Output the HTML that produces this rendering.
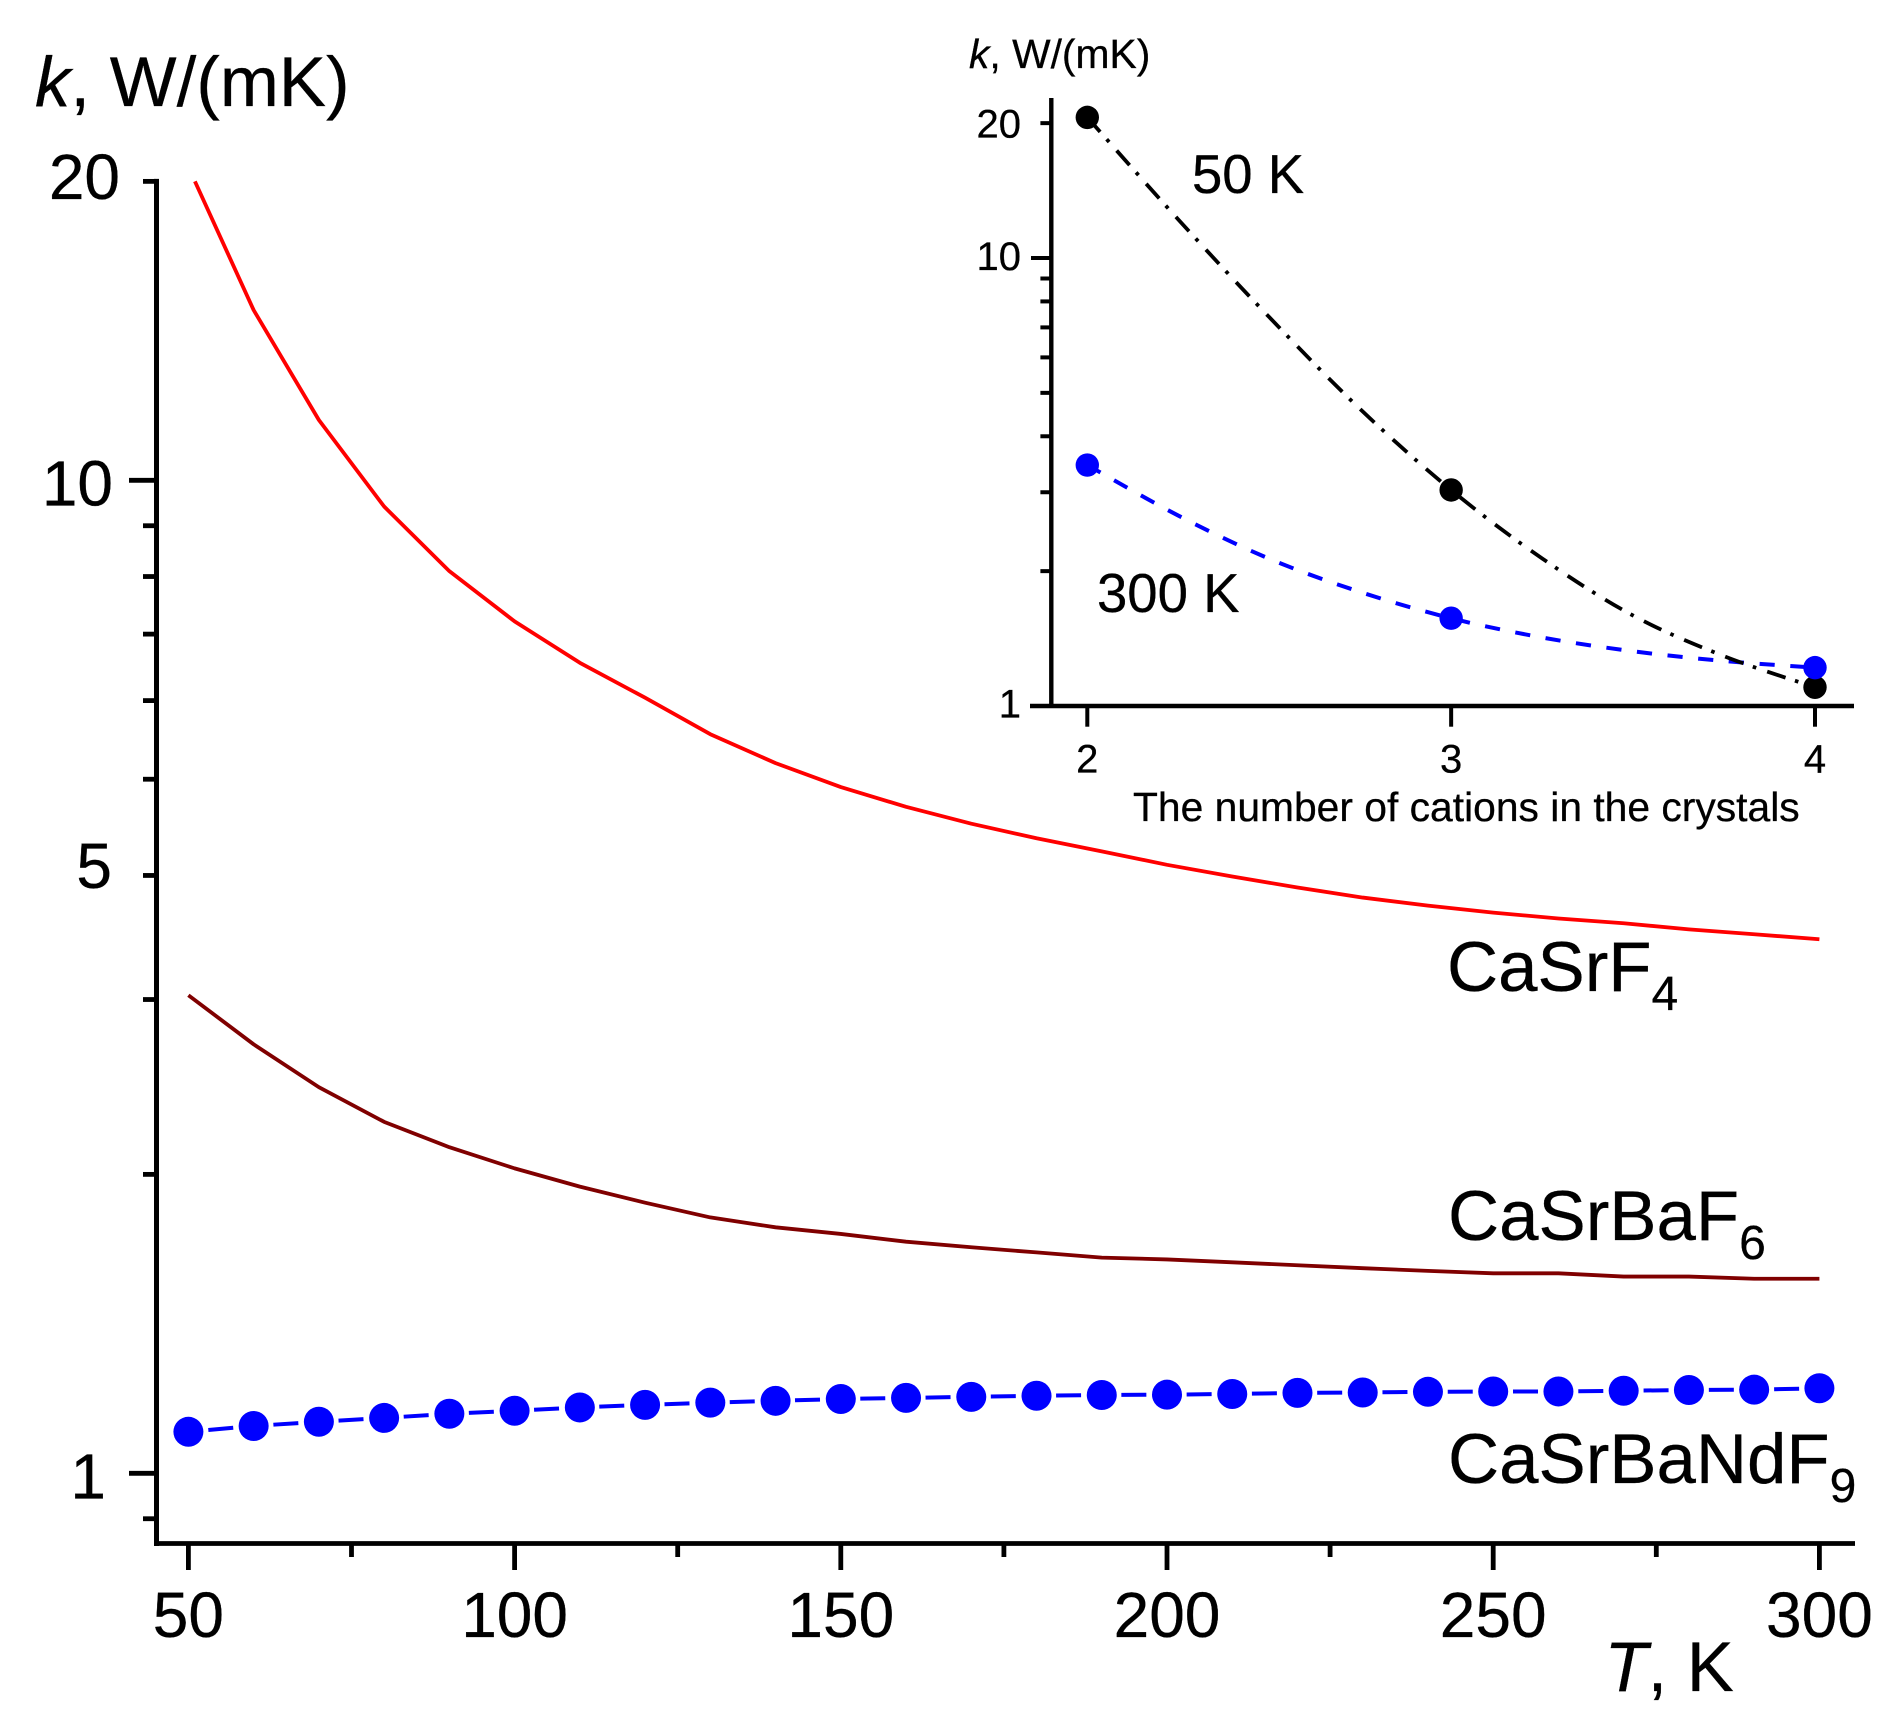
<!DOCTYPE html>
<html lang="en">
<head>
<meta charset="utf-8">
<title>Thermal conductivity of fluoride crystals</title>
<style>
html,body{margin:0;padding:0;background:#fff;}
svg{display:block;}
text{font-family:"Liberation Sans",Arial,sans-serif;fill:#000;stroke:#000;stroke-width:0.3px;}
</style>
</head>
<body>
<svg id="figure" xmlns="http://www.w3.org/2000/svg" width="1894" height="1732" viewBox="0 0 1894 1732">
  <rect x="0" y="0" width="1894" height="1732" fill="#fff"/>
  <g id="main-chart"></g>
  <g id="inset-chart"></g>

  <text x="35" y="106" font-size="70.8"><tspan font-style="italic">k</tspan>, W/(mK)</text>
  <text x="1604.5" y="1691" font-size="70.5"><tspan font-style="italic">T</tspan>, K</text>

  <text x="1447" y="991" font-size="70.8">CaSrF<tspan font-size="48" dy="19">4</tspan></text>
  <text x="1448" y="1240" font-size="70.8">CaSrBaF<tspan font-size="48" dy="19">6</tspan></text>
  <text x="1448" y="1483" font-size="70.8">CaSrBaNdF<tspan font-size="48" dy="19">9</tspan></text>

  <text x="969" y="68" font-size="40.8"><tspan font-style="italic">k</tspan>, W/(mK)</text>
  <text x="1133" y="821" font-size="40.8">The number of cations in the crystals</text>
  <text x="1192" y="193" font-size="54.5">50 K</text>
  <text x="1097" y="612" font-size="54.5">300 K</text>
</svg>

<script>
// ---------- Main chart data ----------
const temperatures = [50,60,70,80,90,100,110,120,130,140,150,160,170,180,190,200,210,220,230,240,250,260,270,280,290,300];
const casrf4Temperatures = [51,60,70,80,90,100,110,120,130,140,150,160,170,180,190,200,210,220,230,240,250,260,270,280,290,300];
const casrf4Values = [20.0,14.84,11.50,9.41,8.10,7.21,6.55,6.04,5.55,5.19,4.91,4.69,4.51,4.36,4.23,4.10,3.99,3.89,3.80,3.73,3.67,3.62,3.58,3.53,3.49,3.45];
const casrbaf6Values = [3.03,2.704,2.448,2.259,2.130,2.028,1.944,1.873,1.810,1.769,1.742,1.711,1.689,1.669,1.649,1.642,1.631,1.620,1.609,1.599,1.590,1.590,1.578,1.578,1.570,1.570];
const casrbandf9Values = [1.101,1.116,1.127,1.137,1.148,1.156,1.165,1.172,1.178,1.183,1.188,1.191,1.194,1.197,1.199,1.200,1.202,1.205,1.206,1.208,1.209,1.209,1.211,1.213,1.214,1.218];
const xMajorTicks = [50,100,150,200,250,300];
const xMinorTicks = [75,125,175,225,275];
const yMajorTicks = [10,1];
const yMinorTicks = [20,9,8,7,6,5,4,3,2,0.9];
const yTickLabelValues = [20,10,4,1];
const yTickLabelTexts = ['20','10','5','1'];

// ---------- Inset chart data ----------
const cationCounts = [2,3,4];
const k50Values = [20.6,3.035,1.101];
const k300Values = [3.45,1.570,1.218];
const fitCationCounts = [2,2.25,2.5,2.75,3,3.25,3.5,3.75,4];
const k50FitValues = [20.6,12.19,7.38,4.60,3.035,2.135,1.592,1.292,1.101];
const k300FitValues = [3.45,2.661,2.132,1.797,1.570,1.422,1.325,1.260,1.218];
const insetYMajorTicks = [10,1];
const insetYMinorTicks = [20,9,8,7,6,5,4,3,2];
const insetYLabelValues = [20,10,1];
const insetYLabelTexts = ['20','10','1'];

// ---------- Axis functions ----------
const xMain = t => 188.4 + (t - 50) * 6.524;
const yMain = v => 1473.3 - 993 * Math.log10(v);
const xInset = n => 1087.3 + (n - 2) * 363.85;
const yInset = v => 706 - 448 * Math.log10(v);

const NS = 'http://www.w3.org/2000/svg';
const mainGroup = document.getElementById('main-chart');
const insetGroup = document.getElementById('inset-chart');

function make(tag, parent, props) {
  const node = document.createElementNS(NS, tag);
  for (const key in props) node.setAttribute(key, props[key]);
  parent.appendChild(node);
  return node;
}
const polyPoints = (xs, ys, fx, fy) => xs.map((x, i) => fx(x).toFixed(2) + ',' + fy(ys[i]).toFixed(2)).join(' ');
function smoothPath(pts) {
  let d = 'M' + pts[0][0].toFixed(2) + ' ' + pts[0][1].toFixed(2);
  for (let i = 0; i < pts.length - 1; i++) {
    const p0 = pts[Math.max(i - 1, 0)], p1 = pts[i], p2 = pts[i + 1], p3 = pts[Math.min(i + 2, pts.length - 1)];
    const c1x = p1[0] + (p2[0] - p0[0]) / 6, c1y = p1[1] + (p2[1] - p0[1]) / 6;
    const c2x = p2[0] - (p3[0] - p1[0]) / 6, c2y = p2[1] - (p3[1] - p1[1]) / 6;
    d += 'C' + c1x.toFixed(2) + ' ' + c1y.toFixed(2) + ' ' + c2x.toFixed(2) + ' ' + c2y.toFixed(2) + ' ' + p2[0].toFixed(2) + ' ' + p2[1].toFixed(2);
  }
  return d;
}

// ---------- Main chart: axes ----------
let el;
el = make('line', mainGroup, {x1:156.5, x2:156.5, y1:yMain(20)-2.5, y2:1546, stroke:'#000', 'stroke-width':5});


el = make('line', mainGroup, {x1:154, x2:1855, y1:1543.5, y2:1543.5, stroke:'#000', 'stroke-width':4.8});



yMajorTicks.forEach(v => {
  const tick = make('line', mainGroup, {x1:129, x2:156, y1:yMain(v), y2:yMain(v), stroke:'#000', 'stroke-width':4.8});
  
  
});
yMinorTicks.forEach(v => {
  const tick = make('line', mainGroup, {x1:143, x2:156, y1:yMain(v), y2:yMain(v), stroke:'#000', 'stroke-width':4.8});
  
  
});
xMajorTicks.forEach(t => {
  const tick = make('line', mainGroup, {x1:xMain(t), x2:xMain(t), y1:1543.5, y2:1570, stroke:'#000', 'stroke-width':4.8});
  
  
  const label = make('text', mainGroup, {x:xMain(t), y:1637, 'font-size':64, 'text-anchor':'middle'});
  label.textContent = String(t);
  
  
});
xMinorTicks.forEach(t => {
  const tick = make('line', mainGroup, {x1:xMain(t), x2:xMain(t), y1:1543.5, y2:1557, stroke:'#000', 'stroke-width':4.8});
  
  
});
// Hand placement of the printed y labels in the reference figure
const yLabelRight = [120,113,112,106];
const yLabelDrop = [17.5,25,12.6,25];
yTickLabelValues.forEach((v, i) => {
  const label = make('text', mainGroup, {x:yLabelRight[i], y:yMain(v)+yLabelDrop[i], 'font-size':64, 'text-anchor':'end'});
  label.textContent = yTickLabelTexts[i];
  
  
});

// ---------- Main chart: series ----------
el = make('polyline', mainGroup, {points:polyPoints(casrf4Temperatures, casrf4Values, xMain, yMain), fill:'none', stroke:'#ff0000', 'stroke-width':3.8, 'stroke-linejoin':'round'});


el = make('polyline', mainGroup, {points:polyPoints(temperatures, casrbaf6Values, xMain, yMain), fill:'none', stroke:'#800000', 'stroke-width':3.8, 'stroke-linejoin':'round'});


el = make('polyline', mainGroup, {points:polyPoints(temperatures, casrbandf9Values, xMain, yMain), fill:'none', stroke:'#0000ff', 'stroke-width':4, 'stroke-dasharray':'25 40.28', 'stroke-dashoffset':45.28});


temperatures.forEach((t, i) => {
  const dot = make('circle', mainGroup, {cx:xMain(t), cy:yMain(casrbandf9Values[i]), r:15, fill:'#0000ff'});
  
  
});

// ---------- Inset chart: axes ----------
el = make('line', insetGroup, {x1:1051.3, x2:1051.3, y1:98, y2:708, stroke:'#000', 'stroke-width':4.4});


el = make('line', insetGroup, {x1:1030, x2:1854, y1:706, y2:706, stroke:'#000', 'stroke-width':4.4});


insetYMajorTicks.forEach(v => {
  const tick = make('line', insetGroup, {x1:1031, x2:1051, y1:yInset(v), y2:yInset(v), stroke:'#000', 'stroke-width':4});
  
  
});
insetYMinorTicks.forEach(v => {
  const tick = make('line', insetGroup, {x1:1040.4, x2:1051, y1:yInset(v), y2:yInset(v), stroke:'#000', 'stroke-width':4});
  
  
});
const insetYLabelDrop = [14.2,12.2,11.5];
insetYLabelValues.forEach((v, i) => {
  const label = make('text', insetGroup, {x:1021, y:yInset(v)+insetYLabelDrop[i], 'font-size':40, 'text-anchor':'end'});
  label.textContent = insetYLabelTexts[i];
  
  
});
cationCounts.forEach(n => {
  const tick = make('line', insetGroup, {x1:xInset(n), x2:xInset(n), y1:706, y2:726.7, stroke:'#000', 'stroke-width':4});
  
  
  const label = make('text', insetGroup, {x:xInset(n), y:772.5, 'font-size':40, 'text-anchor':'middle'});
  label.textContent = String(n);
  
  
});

// ---------- Inset chart: series ----------
const fit50Pts = fitCationCounts.map((n, i) => [xInset(n), yInset(k50FitValues[i])]);
const fit300Pts = fitCationCounts.map((n, i) => [xInset(n), yInset(k300FitValues[i])]);
el = make('path', insetGroup, {d:smoothPath(fit300Pts), fill:'none', stroke:'#0000ff', 'stroke-width':4, 'stroke-dasharray':'15.2 15.6'});


el = make('path', insetGroup, {d:smoothPath(fit50Pts), fill:'none', stroke:'#000', 'stroke-width':3.8, 'stroke-dasharray':'19.4 9.9 3.6 11.5'});


cationCounts.forEach((n, i) => {
  const dot = make('circle', insetGroup, {cx:xInset(n), cy:yInset(k50Values[i]), r:11.7, fill:'#000'});
  
  
});
cationCounts.forEach((n, i) => {
  const dot = make('circle', insetGroup, {cx:xInset(n), cy:yInset(k300Values[i]), r:11.7, fill:'#0000ff'});
  
  
});
</script>
</body>
</html>
